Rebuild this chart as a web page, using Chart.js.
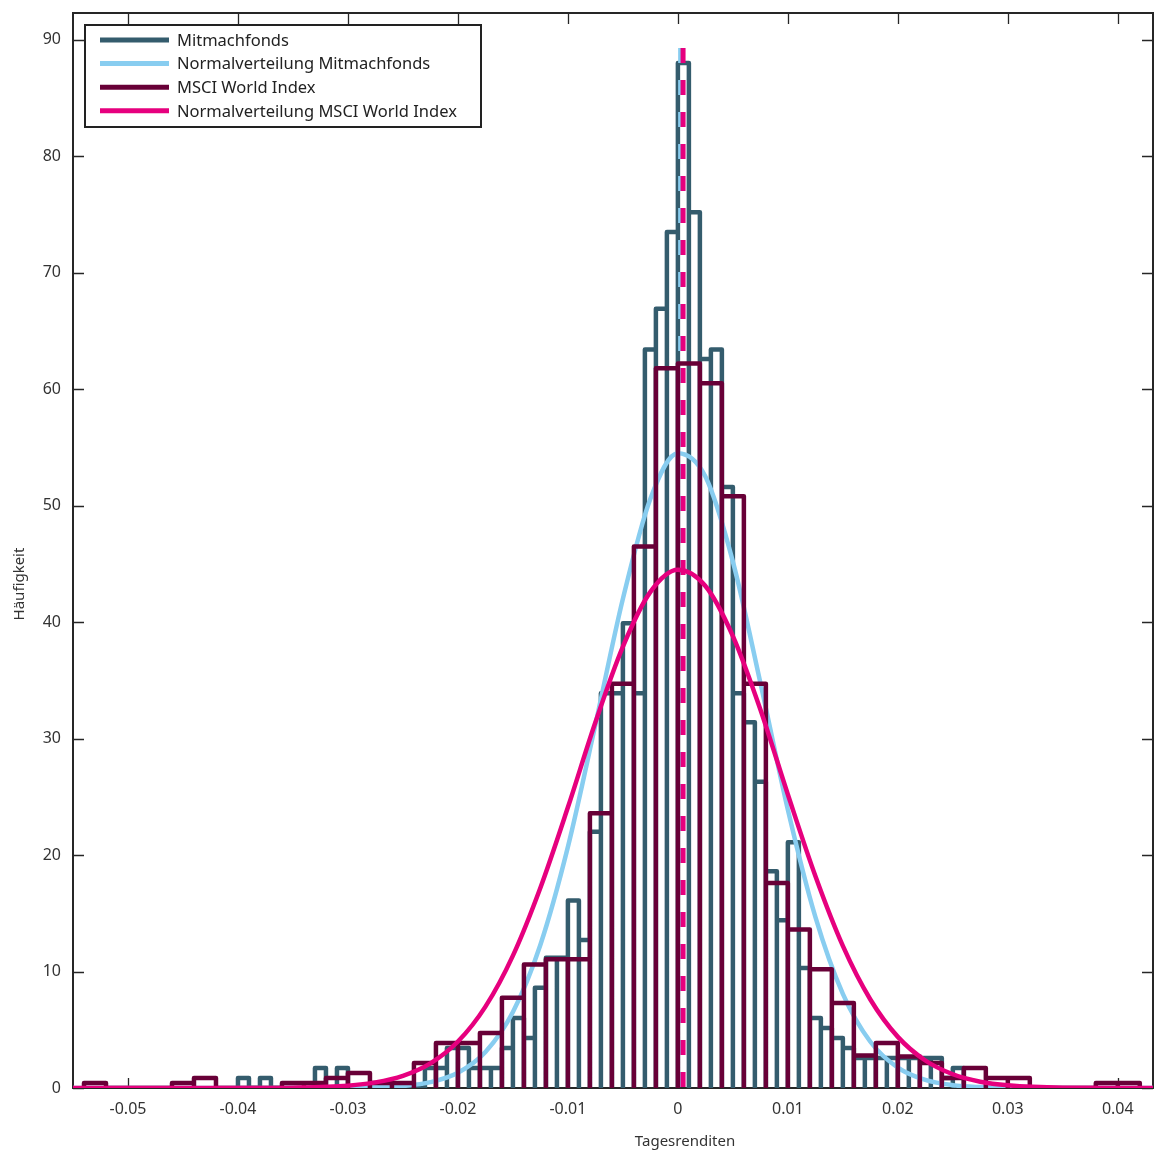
<!DOCTYPE html>
<html>
<head>
<meta charset="utf-8">
<script src="https://cdn.jsdelivr.net/npm/chart.js@4/dist/chart.umd.min.js"></script>
<style>
  html, body { margin: 0; padding: 0; background: #fff; }
  #wrap { width: 1156px; height: 1151px; }
</style>
</head>
<body>
<div id="wrap"><canvas id="histChart" width="1156" height="1151"></canvas></div>
<script>
// Histogram Mitmachfonds (bin width 0.001, first edge -0.040)
const mitmachStart = -0.040;
const mitmachWidth = 0.001;
const mitmachCounts = [
  0.86, 0, 0.86, 0, 0, 0, 0, 1.72, 0, 1.72,
  0, 0, 0, 0, 0, 0, 0, 1.72, 1.72, 3.44,
  3.44, 1.72, 1.72, 1.72, 3.44, 6.0, 4.3, 8.6, 11.18, 11.18,
  16.1, 12.7, 22.0, 33.9, 33.9, 39.9, 33.9, 63.4, 66.9, 73.5,
  88.0, 75.2, 62.6, 63.4, 51.6, 33.9, 31.4, 26.3, 18.6, 14.4,
  21.1, 10.3, 6.0, 5.16, 4.3, 3.44, 2.58, 2.58, 2.58, 2.58,
  2.58, 2.58, 2.58, 2.58, 0.86, 1.72
];

// Histogram MSCI World Index (bin width 0.002, first edge -0.054)
const msciStart = -0.054;
const msciWidth = 0.002;
const msciCounts = [
  0.43, 0, 0, 0, 0.43, 0.86, 0, 0, 0, 0.43,
  0.43, 0.86, 1.29, 0.43, 0.43, 2.15, 3.87, 3.87, 4.73, 7.74,
  10.6, 11.05, 11.05, 23.6, 34.7, 46.5, 61.8, 62.2, 60.5, 50.8,
  34.7, 17.6, 13.6, 10.2, 7.3, 2.8, 3.87, 2.7, 2.15, 0.86,
  1.72, 0.86, 0.86, 0, 0, 0, 0.43, 0.43
];

// Normal distribution curves (values read at these returns)
const normX = [-0.055, -0.04, -0.035, -0.03, -0.0275, -0.025, -0.0225, -0.02, -0.0175, -0.015,
  -0.0125, -0.01, -0.0075, -0.005, -0.0025, 0, 0.0025, 0.005, 0.0075, 0.01,
  0.0125, 0.015, 0.0175, 0.02, 0.0225, 0.025, 0.0275, 0.03, 0.035, 0.0432];
const normMitmach = [0, 0, 0, 0.01, 0.05, 0.17, 0.5, 1.31, 3.09, 6.52,
  12.3, 20.7, 31.2, 42.0, 50.6, 54.5, 52.5, 45.2, 34.8, 23.9,
  14.7, 8.08, 3.97, 1.75, 0.69, 0.24, 0.08, 0.02, 0, 0];
const normMsci = [0, 0, 0.03, 0.2, 0.48, 1.05, 2.12, 3.99, 6.99, 11.37,
  17.2, 24.1, 31.4, 37.9, 42.6, 44.5, 43.1, 38.8, 32.5, 25.2,
  18.2, 12.2, 7.6, 4.39, 2.36, 1.18, 0.54, 0.23, 0.03, 0];

// Mean lines
const meanMitmach = 0.00025;
const meanMsci = 0.00047;
const meanTop = 89.3;

// Axes
const xTicks = [-0.05, -0.04, -0.03, -0.02, -0.01, 0, 0.01, 0.02, 0.03, 0.04];
const xTickLabels = ['-0.05', '-0.04', '-0.03', '-0.02', '-0.01', '0', '0.01', '0.02', '0.03', '0.04'];
const yTicks = [0, 10, 20, 30, 40, 50, 60, 70, 80, 90];

const colTeal = '#345c6d';
const colLight = '#88cdf0';
const colMaroon = '#680037';
const colPink = '#e6007e';
const fontFamily = '"Noto Sans", "DejaVu Sans", sans-serif';

function outline(start, width, counts) {
  const pts = [];
  counts.forEach((h, i) => {
    const l = start + i * width;
    const r = l + width;
    pts.push({ x: l, y: 0 }, { x: l, y: h }, { x: r, y: h }, { x: r, y: 0 });
  });
  return pts;
}

function curve(xs, ys) {
  return xs.map((x, i) => ({ x: x, y: ys[i] }));
}

// Box and inward tick marks, axis titles
const frame = {
  id: 'frame',
  beforeDatasetsDraw(chart) {
    const { ctx, chartArea: a, scales: { x, y } } = chart;
    ctx.save();
    ctx.strokeStyle = '#262626';
    ctx.lineWidth = 2;
    ctx.strokeRect(a.left, a.top, a.right - a.left, a.bottom - a.top);
    ctx.lineWidth = 1.3;
    ctx.beginPath();
    xTicks.forEach(v => {
      const px = Math.round(x.getPixelForValue(v)) + 0.5;
      ctx.moveTo(px, a.bottom); ctx.lineTo(px, a.bottom - 10);
      ctx.moveTo(px, a.top); ctx.lineTo(px, a.top + 11);
    });
    yTicks.forEach(v => {
      const py = Math.round(y.getPixelForValue(v)) + 0.5;
      ctx.moveTo(a.left, py); ctx.lineTo(a.left + 11, py);
      ctx.moveTo(a.right, py); ctx.lineTo(a.right - 11, py);
    });
    ctx.stroke();

    ctx.fillStyle = '#333';
    ctx.font = '15px ' + fontFamily;
    ctx.textAlign = 'center';
    ctx.textBaseline = 'middle';
    ctx.fillText('Tagesrenditen', 685, 1142);
    ctx.translate(20, 584);
    ctx.rotate(-Math.PI / 2);
    ctx.fillText('Häufigkeit', 0, 0);
    ctx.restore();
  }
};

// Legend box in the upper left corner
const legendBox = {
  id: 'legendBox',
  afterDraw(chart) {
    const { ctx } = chart;
    const items = chart.data.datasets.filter(d => d.inLegend);
    ctx.save();
    ctx.fillStyle = '#fff';
    ctx.fillRect(85, 25, 396, 102);
    ctx.strokeStyle = '#222';
    ctx.lineWidth = 2;
    ctx.strokeRect(85, 25, 396, 102);
    ctx.font = '16.5px ' + fontFamily;
    ctx.textAlign = 'left';
    ctx.textBaseline = 'middle';
    items.forEach((d, i) => {
      const yy = 40 + i * 23.6;
      ctx.strokeStyle = d.borderColor;
      ctx.lineWidth = 5;
      ctx.beginPath();
      ctx.moveTo(100, yy);
      ctx.lineTo(169, yy);
      ctx.stroke();
      ctx.fillStyle = '#222';
      ctx.fillText(d.label, 177, yy + 1);
    });
    ctx.restore();
  }
};

const ctx = document.getElementById('histChart').getContext('2d');
const histChart = new Chart(ctx, {
  type: 'line',
  data: {
    datasets: [
      {
        label: 'Mitmachfonds',
        inLegend: true,
        data: outline(mitmachStart, mitmachWidth, mitmachCounts),
        borderColor: colTeal,
        borderWidth: 4.5,
        borderJoinStyle: 'round',
        tension: 0,
        order: 6
      },
      {
        label: 'Normalverteilung Mitmachfonds',
        inLegend: true,
        data: curve(normX, normMitmach),
        borderColor: colLight,
        borderWidth: 4.5,
        cubicInterpolationMode: 'monotone',
        order: 5
      },
      {
        label: 'MSCI World Index',
        inLegend: true,
        data: outline(msciStart, msciWidth, msciCounts),
        borderColor: colMaroon,
        borderWidth: 4.5,
        borderJoinStyle: 'round',
        tension: 0,
        order: 3
      },
      {
        label: 'Normalverteilung MSCI World Index',
        inLegend: true,
        data: curve(normX, normMsci),
        borderColor: colPink,
        borderWidth: 4.5,
        cubicInterpolationMode: 'monotone',
        order: 2
      },
      {
        label: 'Mittelwert Mitmachfonds',
        data: [{ x: meanMitmach, y: meanTop }, { x: meanMitmach, y: 0 }],
        borderColor: colLight,
        borderWidth: 5,
        borderDash: [15, 17],
        borderCapStyle: 'butt',
        order: 4
      },
      {
        label: 'Mittelwert MSCI World Index',
        data: [{ x: meanMsci, y: meanTop }, { x: meanMsci, y: 0 }],
        borderColor: colPink,
        borderWidth: 5,
        borderDash: [15, 17],
        borderCapStyle: 'butt',
        order: 1
      }
    ]
  },
  options: {
    responsive: false,
    animation: false,
    events: [],
    layout: { padding: { top: 13, right: 3, left: 0, bottom: 0 } },
    elements: { point: { radius: 0 } },
    plugins: {
      legend: { display: false },
      tooltip: { enabled: false }
    },
    scales: {
      x: {
        type: 'linear',
        min: -0.055,
        max: 0.0432,
        grid: { display: false, drawTicks: false },
        border: { display: false },
        afterBuildTicks: s => { s.ticks = xTicks.map(v => ({ value: v })); },
        afterFit: s => { s.height = 63; s.paddingLeft = 0; s.paddingRight = 0; },
        ticks: {
          autoSkip: false,
          maxRotation: 0,
          padding: 12,
          color: '#333',
          font: { family: fontFamily, size: 16 },
          callback: (v, i) => xTickLabels[i]
        }
      },
      y: {
        type: 'linear',
        min: 0,
        max: 92.3,
        grid: { display: false, drawTicks: false },
        border: { display: false },
        afterBuildTicks: s => { s.ticks = yTicks.map(v => ({ value: v })); },
        afterFit: s => { s.width = 73; s.paddingTop = 0; s.paddingBottom = 0; },
        ticks: {
          autoSkip: false,
          padding: 12,
          color: '#333',
          font: { family: fontFamily, size: 16 }
        }
      }
    }
  },
  plugins: [frame, legendBox]
});
</script>
</body>
</html>
